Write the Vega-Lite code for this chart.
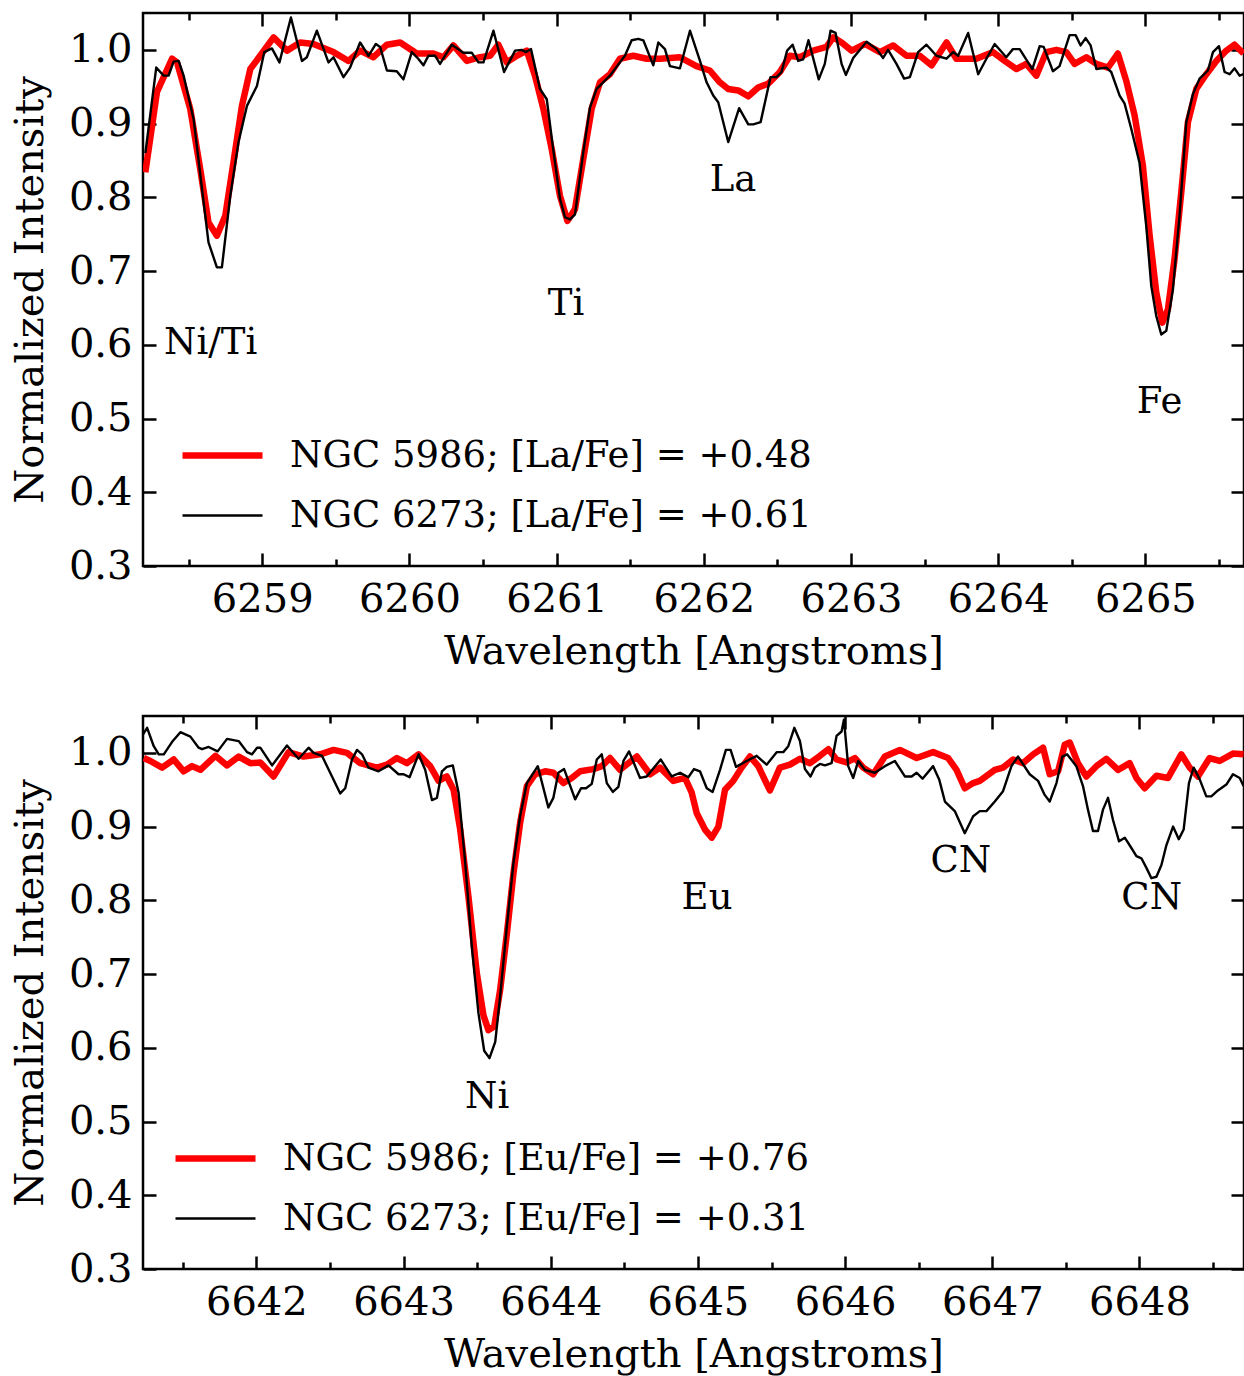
{
  "$schema": "https://vega.github.io/schema/vega-lite/v6.json",
  "padding": {"left": 9, "top": 10, "right": 0, "bottom": 0},
  "spacing": 40,
  "config": {
    "font": "DejaVu Serif",
    "view": {"stroke": "black", "strokeWidth": 2.5},
    "axis": {
      "domain": false, "grid": false, "tickColor": "black", "tickWidth": 2.5,
      "labelFont": "DejaVu Serif", "labelFontSize": 40, "labelColor": "black",
      "titleFont": "DejaVu Serif", "titleFontSize": 40, "titleFontWeight": "normal", "titleColor": "black",
      "labelFlush": false, "labelOverlap": false
    },
    "legend": {
      "labelFont": "DejaVu Serif", "labelFontSize": 37, "labelColor": "black", "labelLimit": 0,
      "symbolType": "stroke", "symbolSize": 6400, "labelOffset": 24, "rowPadding": -22, "padding": 0
    },
    "text": {"font": "DejaVu Serif", "fontSize": 37, "color": "black"}
  },
  "datasets": {
    "topRed": [
      {"wl":6258.206,"flux":0.834},{"wl":6258.285,"flux":0.943},{"wl":6258.387,"flux":0.988},{"wl":6258.421,"flux":0.983},{"wl":6258.511,"flux":0.920},{"wl":6258.579,"flux":0.838},{"wl":6258.635,"flux":0.766},{"wl":6258.692,"flux":0.748},{"wl":6258.749,"flux":0.775},{"wl":6258.805,"flux":0.848},{"wl":6258.862,"flux":0.924},{"wl":6258.919,"flux":0.974},{"wl":6258.986,"flux":0.992},{"wl":6259.077,"flux":1.017},{"wl":6259.168,"flux":0.999},{"wl":6259.258,"flux":1.010},{"wl":6259.348,"flux":1.008},{"wl":6259.484,"flux":0.997},{"wl":6259.586,"flux":0.985},{"wl":6259.665,"flux":0.999},{"wl":6259.756,"flux":0.990},{"wl":6259.847,"flux":1.007},{"wl":6259.937,"flux":1.010},{"wl":6260.05,"flux":0.995},{"wl":6260.163,"flux":0.995},{"wl":6260.231,"flux":0.990},{"wl":6260.299,"flux":1.006},{"wl":6260.39,"flux":0.985},{"wl":6260.48,"flux":0.990},{"wl":6260.548,"flux":0.992},{"wl":6260.604,"flux":1.007},{"wl":6260.661,"flux":0.983},{"wl":6260.729,"flux":0.992},{"wl":6260.797,"flux":0.999},{"wl":6260.853,"flux":0.965},{"wl":6260.91,"flux":0.920},{"wl":6260.967,"flux":0.865},{"wl":6261.023,"flux":0.802},{"wl":6261.073,"flux":0.768},{"wl":6261.125,"flux":0.784},{"wl":6261.181,"flux":0.852},{"wl":6261.238,"flux":0.920},{"wl":6261.295,"flux":0.956},{"wl":6261.362,"flux":0.967},{"wl":6261.43,"flux":0.988},{"wl":6261.521,"flux":0.992},{"wl":6261.612,"flux":0.988},{"wl":6261.702,"flux":0.988},{"wl":6261.838,"flux":0.990},{"wl":6261.95,"flux":0.978},{"wl":6262.041,"flux":0.972},{"wl":6262.109,"flux":0.956},{"wl":6262.166,"flux":0.947},{"wl":6262.234,"flux":0.945},{"wl":6262.302,"flux":0.937},{"wl":6262.369,"flux":0.949},{"wl":6262.437,"flux":0.954},{"wl":6262.517,"flux":0.970},{"wl":6262.585,"flux":0.992},{"wl":6262.653,"flux":0.990},{"wl":6262.743,"flux":0.999},{"wl":6262.834,"flux":1.004},{"wl":6262.879,"flux":1.017},{"wl":6262.936,"flux":1.010},{"wl":6263.004,"flux":0.999},{"wl":6263.095,"flux":1.008},{"wl":6263.196,"flux":0.997},{"wl":6263.286,"flux":1.006},{"wl":6263.377,"flux":0.992},{"wl":6263.467,"flux":0.992},{"wl":6263.547,"flux":0.979},{"wl":6263.649,"flux":1.010},{"wl":6263.716,"flux":0.988},{"wl":6263.852,"flux":0.988},{"wl":6263.965,"flux":0.997},{"wl":6264.044,"flux":0.985},{"wl":6264.124,"flux":0.974},{"wl":6264.191,"flux":0.981},{"wl":6264.259,"flux":0.965},{"wl":6264.327,"flux":0.997},{"wl":6264.395,"flux":1.000},{"wl":6264.463,"flux":0.997},{"wl":6264.519,"flux":0.981},{"wl":6264.599,"flux":0.990},{"wl":6264.667,"flux":0.981},{"wl":6264.746,"flux":0.976},{"wl":6264.813,"flux":0.995},{"wl":6264.87,"flux":0.958},{"wl":6264.927,"flux":0.911},{"wl":6264.983,"flux":0.843},{"wl":6265.029,"flux":0.748},{"wl":6265.074,"flux":0.671},{"wl":6265.115,"flux":0.630},{"wl":6265.153,"flux":0.648},{"wl":6265.198,"flux":0.716},{"wl":6265.244,"flux":0.807},{"wl":6265.289,"flux":0.902},{"wl":6265.346,"flux":0.947},{"wl":6265.414,"flux":0.967},{"wl":6265.482,"flux":0.985},{"wl":6265.55,"flux":0.999},{"wl":6265.606,"flux":1.007},{"wl":6265.667,"flux":0.995}
    ],
    "topBlack": [
      {"wl":6258.206,"flux":0.86},{"wl":6258.28,"flux":0.976},{"wl":6258.33,"flux":0.965},{"wl":6258.364,"flux":0.965},{"wl":6258.398,"flux":0.984},{"wl":6258.432,"flux":0.985},{"wl":6258.466,"flux":0.965},{"wl":6258.534,"flux":0.906},{"wl":6258.591,"flux":0.811},{"wl":6258.635,"flux":0.739},{"wl":6258.692,"flux":0.705},{"wl":6258.726,"flux":0.705},{"wl":6258.783,"flux":0.802},{"wl":6258.839,"flux":0.875},{"wl":6258.896,"flux":0.924},{"wl":6258.964,"flux":0.951},{"wl":6259.014,"flux":0.997},{"wl":6259.066,"flux":1.002},{"wl":6259.117,"flux":0.983},{"wl":6259.195,"flux":1.044},{"wl":6259.27,"flux":0.985},{"wl":6259.303,"flux":0.990},{"wl":6259.371,"flux":1.026},{"wl":6259.45,"flux":0.983},{"wl":6259.484,"flux":0.990},{"wl":6259.552,"flux":0.963},{"wl":6259.597,"flux":0.976},{"wl":6259.665,"flux":1.010},{"wl":6259.722,"flux":0.992},{"wl":6259.772,"flux":1.008},{"wl":6259.801,"flux":1.004},{"wl":6259.847,"flux":0.972},{"wl":6259.914,"flux":0.971},{"wl":6259.959,"flux":0.960},{"wl":6260.016,"flux":0.997},{"wl":6260.06,"flux":0.988},{"wl":6260.095,"flux":0.979},{"wl":6260.129,"flux":0.992},{"wl":6260.175,"flux":0.992},{"wl":6260.208,"flux":0.981},{"wl":6260.288,"flux":1.007},{"wl":6260.367,"flux":0.996},{"wl":6260.424,"flux":0.996},{"wl":6260.469,"flux":0.983},{"wl":6260.503,"flux":0.983},{"wl":6260.571,"flux":1.026},{"wl":6260.643,"flux":0.970},{"wl":6260.718,"flux":0.999},{"wl":6260.763,"flux":1.000},{"wl":6260.792,"flux":0.997},{"wl":6260.826,"flux":1.001},{"wl":6260.887,"flux":0.947},{"wl":6260.933,"flux":0.933},{"wl":6260.977,"flux":0.865},{"wl":6261.023,"flux":0.798},{"wl":6261.057,"flux":0.773},{"wl":6261.091,"flux":0.770},{"wl":6261.125,"flux":0.777},{"wl":6261.181,"flux":0.861},{"wl":6261.227,"flux":0.922},{"wl":6261.272,"flux":0.947},{"wl":6261.362,"flux":0.965},{"wl":6261.43,"flux":0.983},{"wl":6261.464,"flux":0.992},{"wl":6261.51,"flux":1.013},{"wl":6261.555,"flux":1.015},{"wl":6261.589,"flux":1.013},{"wl":6261.657,"flux":0.979},{"wl":6261.691,"flux":1.010},{"wl":6261.736,"flux":1.001},{"wl":6261.77,"flux":0.978},{"wl":6261.838,"flux":0.975},{"wl":6261.906,"flux":1.026},{"wl":6261.974,"flux":0.985},{"wl":6262.019,"flux":0.956},{"wl":6262.064,"flux":0.938},{"wl":6262.098,"flux":0.929},{"wl":6262.166,"flux":0.875},{"wl":6262.24,"flux":0.921},{"wl":6262.302,"flux":0.899},{"wl":6262.336,"flux":0.899},{"wl":6262.386,"flux":0.902},{"wl":6262.453,"flux":0.963},{"wl":6262.494,"flux":0.963},{"wl":6262.528,"flux":0.970},{"wl":6262.566,"flux":0.999},{"wl":6262.603,"flux":1.007},{"wl":6262.641,"flux":0.985},{"wl":6262.675,"flux":0.987},{"wl":6262.711,"flux":1.013},{"wl":6262.781,"flux":0.960},{"wl":6262.822,"flux":0.981},{"wl":6262.861,"flux":1.026},{"wl":6262.895,"flux":1.023},{"wl":6262.936,"flux":0.981},{"wl":6262.965,"flux":0.966},{"wl":6263.015,"flux":0.989},{"wl":6263.106,"flux":1.011},{"wl":6263.174,"flux":1.001},{"wl":6263.218,"flux":0.989},{"wl":6263.252,"flux":1.000},{"wl":6263.309,"flux":0.981},{"wl":6263.361,"flux":0.961},{"wl":6263.4,"flux":0.963},{"wl":6263.456,"flux":0.997},{"wl":6263.513,"flux":1.007},{"wl":6263.581,"flux":0.992},{"wl":6263.649,"flux":0.988},{"wl":6263.694,"flux":0.997},{"wl":6263.728,"flux":0.992},{"wl":6263.796,"flux":1.023},{"wl":6263.864,"flux":0.967},{"wl":6263.92,"flux":0.988},{"wl":6263.976,"flux":1.008},{"wl":6264.055,"flux":0.990},{"wl":6264.1,"flux":1.001},{"wl":6264.146,"flux":1.001},{"wl":6264.232,"flux":0.974},{"wl":6264.282,"flux":1.005},{"wl":6264.309,"flux":1.004},{"wl":6264.372,"flux":0.971},{"wl":6264.417,"flux":0.978},{"wl":6264.485,"flux":1.020},{"wl":6264.526,"flux":1.020},{"wl":6264.56,"flux":1.006},{"wl":6264.594,"flux":1.016},{"wl":6264.628,"flux":1.006},{"wl":6264.667,"flux":0.974},{"wl":6264.734,"flux":0.976},{"wl":6264.768,"flux":0.970},{"wl":6264.825,"flux":0.938},{"wl":6264.859,"flux":0.927},{"wl":6264.904,"flux":0.893},{"wl":6264.96,"flux":0.847},{"wl":6265.006,"flux":0.761},{"wl":6265.04,"flux":0.680},{"wl":6265.074,"flux":0.639},{"wl":6265.108,"flux":0.614},{"wl":6265.142,"flux":0.619},{"wl":6265.187,"flux":0.675},{"wl":6265.232,"flux":0.775},{"wl":6265.278,"flux":0.902},{"wl":6265.323,"flux":0.940},{"wl":6265.368,"flux":0.961},{"wl":6265.425,"flux":0.972},{"wl":6265.459,"flux":0.997},{"wl":6265.5,"flux":1.005},{"wl":6265.538,"flux":0.970},{"wl":6265.572,"flux":0.967},{"wl":6265.606,"flux":0.975},{"wl":6265.64,"flux":0.965},{"wl":6265.667,"flux":0.967}
    ],
    "topLabels": [
      {"wl":6258.65,"flux":0.603,"label":"Ni/Ti"},{"wl":6261.064,"flux":0.655,"label":"Ti"},{"wl":6262.198,"flux":0.823,"label":"La"},{"wl":6265.096,"flux":0.523,"label":"Fe"}
    ],
    "botRed": [
      {"wl":6641.235,"flux":0.993},{"wl":6641.28,"flux":0.989},{"wl":6641.36,"flux":0.980},{"wl":6641.439,"flux":0.991},{"wl":6641.506,"flux":0.975},{"wl":6641.563,"flux":0.982},{"wl":6641.62,"flux":0.977},{"wl":6641.722,"flux":0.996},{"wl":6641.801,"flux":0.983},{"wl":6641.88,"flux":0.995},{"wl":6641.959,"flux":0.986},{"wl":6642.027,"flux":0.987},{"wl":6642.117,"flux":0.968},{"wl":6642.219,"flux":1.001},{"wl":6642.321,"flux":0.995},{"wl":6642.434,"flux":0.998},{"wl":6642.525,"flux":1.004},{"wl":6642.616,"flux":1.000},{"wl":6642.706,"flux":0.986},{"wl":6642.819,"flux":0.980},{"wl":6642.887,"flux":0.984},{"wl":6642.955,"flux":0.993},{"wl":6643.023,"flux":0.986},{"wl":6643.102,"flux":0.998},{"wl":6643.181,"flux":0.982},{"wl":6643.238,"flux":0.962},{"wl":6643.294,"flux":0.968},{"wl":6643.34,"flux":0.950},{"wl":6643.385,"flux":0.896},{"wl":6643.441,"flux":0.805},{"wl":6643.498,"flux":0.701},{"wl":6643.543,"flux":0.644},{"wl":6643.577,"flux":0.624},{"wl":6643.616,"flux":0.629},{"wl":6643.656,"flux":0.678},{"wl":6643.702,"flux":0.755},{"wl":6643.747,"flux":0.837},{"wl":6643.792,"flux":0.905},{"wl":6643.838,"flux":0.955},{"wl":6643.894,"flux":0.971},{"wl":6643.962,"flux":0.975},{"wl":6644.018,"flux":0.973},{"wl":6644.086,"flux":0.959},{"wl":6644.143,"flux":0.966},{"wl":6644.2,"flux":0.975},{"wl":6644.29,"flux":0.978},{"wl":6644.347,"flux":0.982},{"wl":6644.403,"flux":0.993},{"wl":6644.471,"flux":0.977},{"wl":6644.585,"flux":0.995},{"wl":6644.675,"flux":0.971},{"wl":6644.743,"flux":0.980},{"wl":6644.833,"flux":0.962},{"wl":6644.912,"flux":0.966},{"wl":6644.958,"flux":0.946},{"wl":6644.992,"flux":0.918},{"wl":6645.048,"flux":0.896},{"wl":6645.094,"flux":0.885},{"wl":6645.139,"flux":0.900},{"wl":6645.184,"flux":0.950},{"wl":6645.24,"flux":0.962},{"wl":6645.297,"flux":0.980},{"wl":6645.354,"flux":0.995},{"wl":6645.41,"flux":0.982},{"wl":6645.489,"flux":0.949},{"wl":6645.557,"flux":0.980},{"wl":6645.625,"flux":0.984},{"wl":6645.693,"flux":0.992},{"wl":6645.761,"flux":0.986},{"wl":6645.829,"flux":0.996},{"wl":6645.886,"flux":1.005},{"wl":6645.942,"flux":0.991},{"wl":6646.01,"flux":0.987},{"wl":6646.067,"flux":0.993},{"wl":6646.123,"flux":0.980},{"wl":6646.191,"flux":0.971},{"wl":6646.27,"flux":0.995},{"wl":6646.372,"flux":1.004},{"wl":6646.486,"flux":0.993},{"wl":6646.598,"flux":1.001},{"wl":6646.7,"flux":0.993},{"wl":6646.757,"flux":0.977},{"wl":6646.813,"flux":0.952},{"wl":6646.87,"flux":0.959},{"wl":6646.915,"flux":0.962},{"wl":6647.017,"flux":0.977},{"wl":6647.073,"flux":0.980},{"wl":6647.141,"flux":0.991},{"wl":6647.209,"flux":0.986},{"wl":6647.277,"flux":0.998},{"wl":6647.345,"flux":1.007},{"wl":6647.39,"flux":0.971},{"wl":6647.447,"flux":0.975},{"wl":6647.492,"flux":1.011},{"wl":6647.526,"flux":1.014},{"wl":6647.582,"flux":0.986},{"wl":6647.639,"flux":0.968},{"wl":6647.707,"flux":0.982},{"wl":6647.775,"flux":0.992},{"wl":6647.854,"flux":0.977},{"wl":6647.933,"flux":0.986},{"wl":6647.979,"flux":0.966},{"wl":6648.035,"flux":0.952},{"wl":6648.115,"flux":0.969},{"wl":6648.194,"flux":0.966},{"wl":6648.284,"flux":0.998},{"wl":6648.341,"flux":0.980},{"wl":6648.397,"flux":0.968},{"wl":6648.476,"flux":0.993},{"wl":6648.544,"flux":0.989},{"wl":6648.635,"flux":0.999},{"wl":6648.707,"flux":0.998}
    ],
    "botBlack": [
      {"wl":6641.224,"flux":1.023},{"wl":6641.258,"flux":1.034},{"wl":6641.303,"flux":1.009},{"wl":6641.337,"flux":0.998},{"wl":6641.371,"flux":0.998},{"wl":6641.428,"flux":1.015},{"wl":6641.484,"flux":1.028},{"wl":6641.552,"flux":1.022},{"wl":6641.608,"flux":1.007},{"wl":6641.631,"flux":1.005},{"wl":6641.676,"flux":1.008},{"wl":6641.737,"flux":1.002},{"wl":6641.801,"flux":1.019},{"wl":6641.88,"flux":1.016},{"wl":6641.937,"flux":1.001},{"wl":6641.971,"flux":0.998},{"wl":6642.005,"flux":1.007},{"wl":6642.027,"flux":1.007},{"wl":6642.107,"flux":0.983},{"wl":6642.208,"flux":1.010},{"wl":6642.287,"flux":0.992},{"wl":6642.355,"flux":1.007},{"wl":6642.389,"flux":1.000},{"wl":6642.446,"flux":0.996},{"wl":6642.514,"flux":0.968},{"wl":6642.57,"flux":0.945},{"wl":6642.604,"flux":0.952},{"wl":6642.65,"flux":0.991},{"wl":6642.684,"flux":1.004},{"wl":6642.718,"flux":0.998},{"wl":6642.762,"flux":0.980},{"wl":6642.83,"flux":0.975},{"wl":6642.898,"flux":0.983},{"wl":6642.966,"flux":0.971},{"wl":6643.0,"flux":0.971},{"wl":6643.041,"flux":0.967},{"wl":6643.102,"flux":0.998},{"wl":6643.147,"flux":0.977},{"wl":6643.193,"flux":0.936},{"wl":6643.227,"flux":0.939},{"wl":6643.261,"flux":0.975},{"wl":6643.294,"flux":0.981},{"wl":6643.335,"flux":0.983},{"wl":6643.374,"flux":0.946},{"wl":6643.419,"flux":0.851},{"wl":6643.464,"flux":0.737},{"wl":6643.509,"flux":0.647},{"wl":6643.548,"flux":0.596},{"wl":6643.584,"flux":0.586},{"wl":6643.623,"flux":0.608},{"wl":6643.656,"flux":0.669},{"wl":6643.702,"flux":0.765},{"wl":6643.747,"flux":0.851},{"wl":6643.792,"flux":0.914},{"wl":6643.838,"flux":0.959},{"wl":6643.912,"flux":0.982},{"wl":6643.984,"flux":0.926},{"wl":6644.018,"flux":0.939},{"wl":6644.052,"flux":0.973},{"wl":6644.091,"flux":0.978},{"wl":6644.166,"flux":0.937},{"wl":6644.206,"flux":0.952},{"wl":6644.24,"flux":0.952},{"wl":6644.279,"flux":0.958},{"wl":6644.313,"flux":0.991},{"wl":6644.347,"flux":0.998},{"wl":6644.381,"flux":0.959},{"wl":6644.422,"flux":0.947},{"wl":6644.46,"flux":0.954},{"wl":6644.494,"flux":0.989},{"wl":6644.532,"flux":1.002},{"wl":6644.607,"flux":0.966},{"wl":6644.652,"flux":0.968},{"wl":6644.747,"flux":0.991},{"wl":6644.822,"flux":0.968},{"wl":6644.879,"flux":0.973},{"wl":6644.935,"flux":0.967},{"wl":6644.973,"flux":0.978},{"wl":6645.014,"flux":0.975},{"wl":6645.06,"flux":0.952},{"wl":6645.1,"flux":0.947},{"wl":6645.15,"flux":0.977},{"wl":6645.19,"flux":1.004},{"wl":6645.222,"flux":1.004},{"wl":6645.259,"flux":0.981},{"wl":6645.331,"flux":0.989},{"wl":6645.399,"flux":0.996},{"wl":6645.467,"flux":0.984},{"wl":6645.535,"flux":1.001},{"wl":6645.58,"flux":1.001},{"wl":6645.614,"flux":1.009},{"wl":6645.655,"flux":1.034},{"wl":6645.693,"flux":1.016},{"wl":6645.727,"flux":0.978},{"wl":6645.765,"flux":0.968},{"wl":6645.794,"flux":0.980},{"wl":6645.829,"flux":0.985},{"wl":6645.863,"flux":0.983},{"wl":6645.908,"flux":0.986},{"wl":6645.942,"flux":1.023},{"wl":6645.976,"flux":1.029},{"wl":6645.992,"flux":1.045},{"wl":6646.021,"flux":0.982},{"wl":6646.055,"flux":0.966},{"wl":6646.089,"flux":0.989},{"wl":6646.134,"flux":0.977},{"wl":6646.202,"flux":0.973},{"wl":6646.27,"flux":0.982},{"wl":6646.338,"flux":0.989},{"wl":6646.406,"flux":0.968},{"wl":6646.452,"flux":0.968},{"wl":6646.486,"flux":0.973},{"wl":6646.526,"flux":0.965},{"wl":6646.598,"flux":0.982},{"wl":6646.639,"flux":0.964},{"wl":6646.678,"flux":0.934},{"wl":6646.745,"flux":0.921},{"wl":6646.813,"flux":0.891},{"wl":6646.87,"flux":0.914},{"wl":6646.915,"flux":0.921},{"wl":6646.96,"flux":0.921},{"wl":6647.017,"flux":0.934},{"wl":6647.073,"flux":0.948},{"wl":6647.13,"flux":0.982},{"wl":6647.175,"flux":0.995},{"wl":6647.254,"flux":0.971},{"wl":6647.311,"flux":0.962},{"wl":6647.356,"flux":0.943},{"wl":6647.39,"flux":0.934},{"wl":6647.436,"flux":0.959},{"wl":6647.476,"flux":0.995},{"wl":6647.508,"flux":0.998},{"wl":6647.571,"flux":0.982},{"wl":6647.616,"flux":0.955},{"wl":6647.65,"flux":0.923},{"wl":6647.684,"flux":0.894},{"wl":6647.718,"flux":0.894},{"wl":6647.752,"flux":0.923},{"wl":6647.786,"flux":0.939},{"wl":6647.82,"flux":0.909},{"wl":6647.861,"flux":0.880},{"wl":6647.9,"flux":0.885},{"wl":6647.945,"flux":0.871},{"wl":6647.979,"flux":0.860},{"wl":6648.013,"flux":0.857},{"wl":6648.047,"flux":0.844},{"wl":6648.081,"flux":0.830},{"wl":6648.115,"flux":0.832},{"wl":6648.149,"flux":0.848},{"wl":6648.183,"flux":0.875},{"wl":6648.228,"flux":0.900},{"wl":6648.267,"flux":0.883},{"wl":6648.3,"flux":0.896},{"wl":6648.336,"flux":0.959},{"wl":6648.368,"flux":0.980},{"wl":6648.409,"flux":0.964},{"wl":6648.454,"flux":0.941},{"wl":6648.488,"flux":0.941},{"wl":6648.533,"flux":0.949},{"wl":6648.59,"flux":0.957},{"wl":6648.635,"flux":0.971},{"wl":6648.681,"flux":0.966},{"wl":6648.707,"flux":0.955}
    ],
    "botLabels": [
      {"wl":6643.568,"flux":0.533,"label":"Ni"},{"wl":6645.062,"flux":0.803,"label":"Eu"},{"wl":6646.786,"flux":0.853,"label":"CN"},{"wl":6648.083,"flux":0.803,"label":"CN"}
    ]
  },
  "resolve": {
    "scale": {"color": "independent", "strokeWidth": "independent"},
    "legend": {"color": "independent", "strokeWidth": "independent"}
  },
  "vconcat": [
    {
      "width": 1101, "height": 553,
      "resolve": {"axis": {"x": "independent", "y": "independent"}},
      "layer": [
        {
          "data": {"name": "topRed"},
          "mark": {"type": "line", "clip": true, "strokeJoin": "round"},
          "encoding": {
            "x": {"field": "wl", "type": "quantitative", "scale": {"domain": [6258.19, 6265.67], "nice": false, "zero": false},
                  "axis": {"orient": "bottom", "values": [6259, 6260, 6261, 6262, 6263, 6264, 6265], "format": "d", "tickSize": -13, "labelPadding": 26, "title": "Wavelength [Angstroms]", "titlePadding": 12}},
            "y": {"field": "flux", "type": "quantitative", "scale": {"domain": [0.3, 1.05], "nice": false, "zero": false},
                  "axis": {"orient": "left", "values": [0.3, 0.4, 0.5, 0.6, 0.7, 0.8, 0.9, 1.0], "format": ".1f", "tickSize": -13, "labelPadding": 24, "title": "Normalized Intensity", "titlePadding": 18}},
            "color": {"datum": "NGC 5986; [La/Fe] = +0.48", "type": "nominal", "scale": {"domain": ["NGC 5986; [La/Fe] = +0.48", "NGC 6273; [La/Fe] = +0.61"], "range": ["#ff0000", "#000000"]},
                      "legend": {"title": null, "orient": "none", "legendX": 36, "legendY": 399}},
            "strokeWidth": {"datum": "NGC 5986; [La/Fe] = +0.48", "type": "nominal", "scale": {"domain": ["NGC 5986; [La/Fe] = +0.48", "NGC 6273; [La/Fe] = +0.61"], "range": [6.5, 2.4]},
                      "legend": {"title": null, "orient": "none", "legendX": 36, "legendY": 399}}
          }
        },
        {
          "data": {"name": "topBlack"},
          "mark": {"type": "line", "clip": true, "strokeJoin": "round"},
          "encoding": {
            "x": {"field": "wl", "type": "quantitative", "axis": {"orient": "top", "values": [6259, 6260, 6261, 6262, 6263, 6264, 6265], "tickSize": -13, "labels": false, "title": null}},
            "y": {"field": "flux", "type": "quantitative", "axis": {"orient": "right", "values": [0.3, 0.4, 0.5, 0.6, 0.7, 0.8, 0.9, 1.0], "tickSize": -13, "labels": false, "title": null}},
            "color": {"datum": "NGC 6273; [La/Fe] = +0.61", "type": "nominal", "legend": {"title": null, "orient": "none", "legendX": 36, "legendY": 399}},
            "strokeWidth": {"datum": "NGC 6273; [La/Fe] = +0.61", "type": "nominal", "legend": {"title": null, "orient": "none", "legendX": 36, "legendY": 399}}
          }
        },
        {
          "data": {"name": "topLabels"},
          "transform": [{"filter": "datum.label == 'Ni/Ti' || datum.label == 'Ti'"}],
          "mark": {"type": "text", "align": "center", "baseline": "middle"},
          "encoding": {
            "x": {"field": "wl", "type": "quantitative", "axis": {"orient": "bottom", "values": [6258.5, 6259.5, 6260.5, 6261.5, 6262.5, 6263.5, 6264.5, 6265.5], "tickSize": -7, "labels": false, "title": null}},
            "y": {"field": "flux", "type": "quantitative", "axis": null},
            "text": {"field": "label"}
          }
        },
        {
          "data": {"name": "topLabels"},
          "transform": [{"filter": "datum.label == 'La' || datum.label == 'Fe'"}],
          "mark": {"type": "text", "align": "center", "baseline": "middle"},
          "encoding": {
            "x": {"field": "wl", "type": "quantitative", "axis": {"orient": "top", "values": [6258.5, 6259.5, 6260.5, 6261.5, 6262.5, 6263.5, 6264.5, 6265.5], "tickSize": -7, "labels": false, "title": null}},
            "y": {"field": "flux", "type": "quantitative", "axis": null},
            "text": {"field": "label"}
          }
        }
      ]
    },
    {
      "width": 1101, "height": 553,
      "resolve": {"axis": {"x": "independent", "y": "independent"}},
      "layer": [
        {
          "data": {"name": "botRed"},
          "mark": {"type": "line", "clip": true, "strokeJoin": "round"},
          "encoding": {
            "x": {"field": "wl", "type": "quantitative", "scale": {"domain": [6641.23, 6648.71], "nice": false, "zero": false},
                  "axis": {"orient": "bottom", "values": [6642, 6643, 6644, 6645, 6646, 6647, 6648], "format": "d", "tickSize": -13, "labelPadding": 26, "title": "Wavelength [Angstroms]", "titlePadding": 12}},
            "y": {"field": "flux", "type": "quantitative", "scale": {"domain": [0.3, 1.05], "nice": false, "zero": false},
                  "axis": {"orient": "left", "values": [0.3, 0.4, 0.5, 0.6, 0.7, 0.8, 0.9, 1.0], "format": ".1f", "tickSize": -13, "labelPadding": 24, "title": "Normalized Intensity", "titlePadding": 18}},
            "color": {"datum": "NGC 5986; [Eu/Fe] = +0.76", "type": "nominal", "scale": {"domain": ["NGC 5986; [Eu/Fe] = +0.76", "NGC 6273; [Eu/Fe] = +0.31"], "range": ["#ff0000", "#000000"]},
                      "legend": {"title": null, "orient": "none", "legendX": 29, "legendY": 399}},
            "strokeWidth": {"datum": "NGC 5986; [Eu/Fe] = +0.76", "type": "nominal", "scale": {"domain": ["NGC 5986; [Eu/Fe] = +0.76", "NGC 6273; [Eu/Fe] = +0.31"], "range": [6.5, 2.4]},
                      "legend": {"title": null, "orient": "none", "legendX": 29, "legendY": 399}}
          }
        },
        {
          "data": {"name": "botBlack"},
          "mark": {"type": "line", "clip": true, "strokeJoin": "round"},
          "encoding": {
            "x": {"field": "wl", "type": "quantitative", "axis": {"orient": "top", "values": [6642, 6643, 6644, 6645, 6646, 6647, 6648], "tickSize": -13, "labels": false, "title": null}},
            "y": {"field": "flux", "type": "quantitative", "axis": {"orient": "right", "values": [0.3, 0.4, 0.5, 0.6, 0.7, 0.8, 0.9, 1.0], "tickSize": -13, "labels": false, "title": null}},
            "color": {"datum": "NGC 6273; [Eu/Fe] = +0.31", "type": "nominal", "legend": {"title": null, "orient": "none", "legendX": 29, "legendY": 399}},
            "strokeWidth": {"datum": "NGC 6273; [Eu/Fe] = +0.31", "type": "nominal", "legend": {"title": null, "orient": "none", "legendX": 29, "legendY": 399}}
          }
        },
        {
          "data": {"name": "botLabels"},
          "transform": [{"filter": "datum.label == 'Ni' || datum.label == 'Eu'"}],
          "mark": {"type": "text", "align": "center", "baseline": "middle"},
          "encoding": {
            "x": {"field": "wl", "type": "quantitative", "axis": {"orient": "bottom", "values": [6641.5, 6642.5, 6643.5, 6644.5, 6645.5, 6646.5, 6647.5, 6648.5], "tickSize": -7, "labels": false, "title": null}},
            "y": {"field": "flux", "type": "quantitative", "axis": null},
            "text": {"field": "label"}
          }
        },
        {
          "data": {"name": "botLabels"},
          "transform": [{"filter": "datum.label == 'CN'"}],
          "mark": {"type": "text", "align": "center", "baseline": "middle"},
          "encoding": {
            "x": {"field": "wl", "type": "quantitative", "axis": {"orient": "top", "values": [6641.5, 6642.5, 6643.5, 6644.5, 6645.5, 6646.5, 6647.5, 6648.5], "tickSize": -7, "labels": false, "title": null}},
            "y": {"field": "flux", "type": "quantitative", "axis": null},
            "text": {"field": "label"}
          }
        }
      ]
    }
  ]
}
